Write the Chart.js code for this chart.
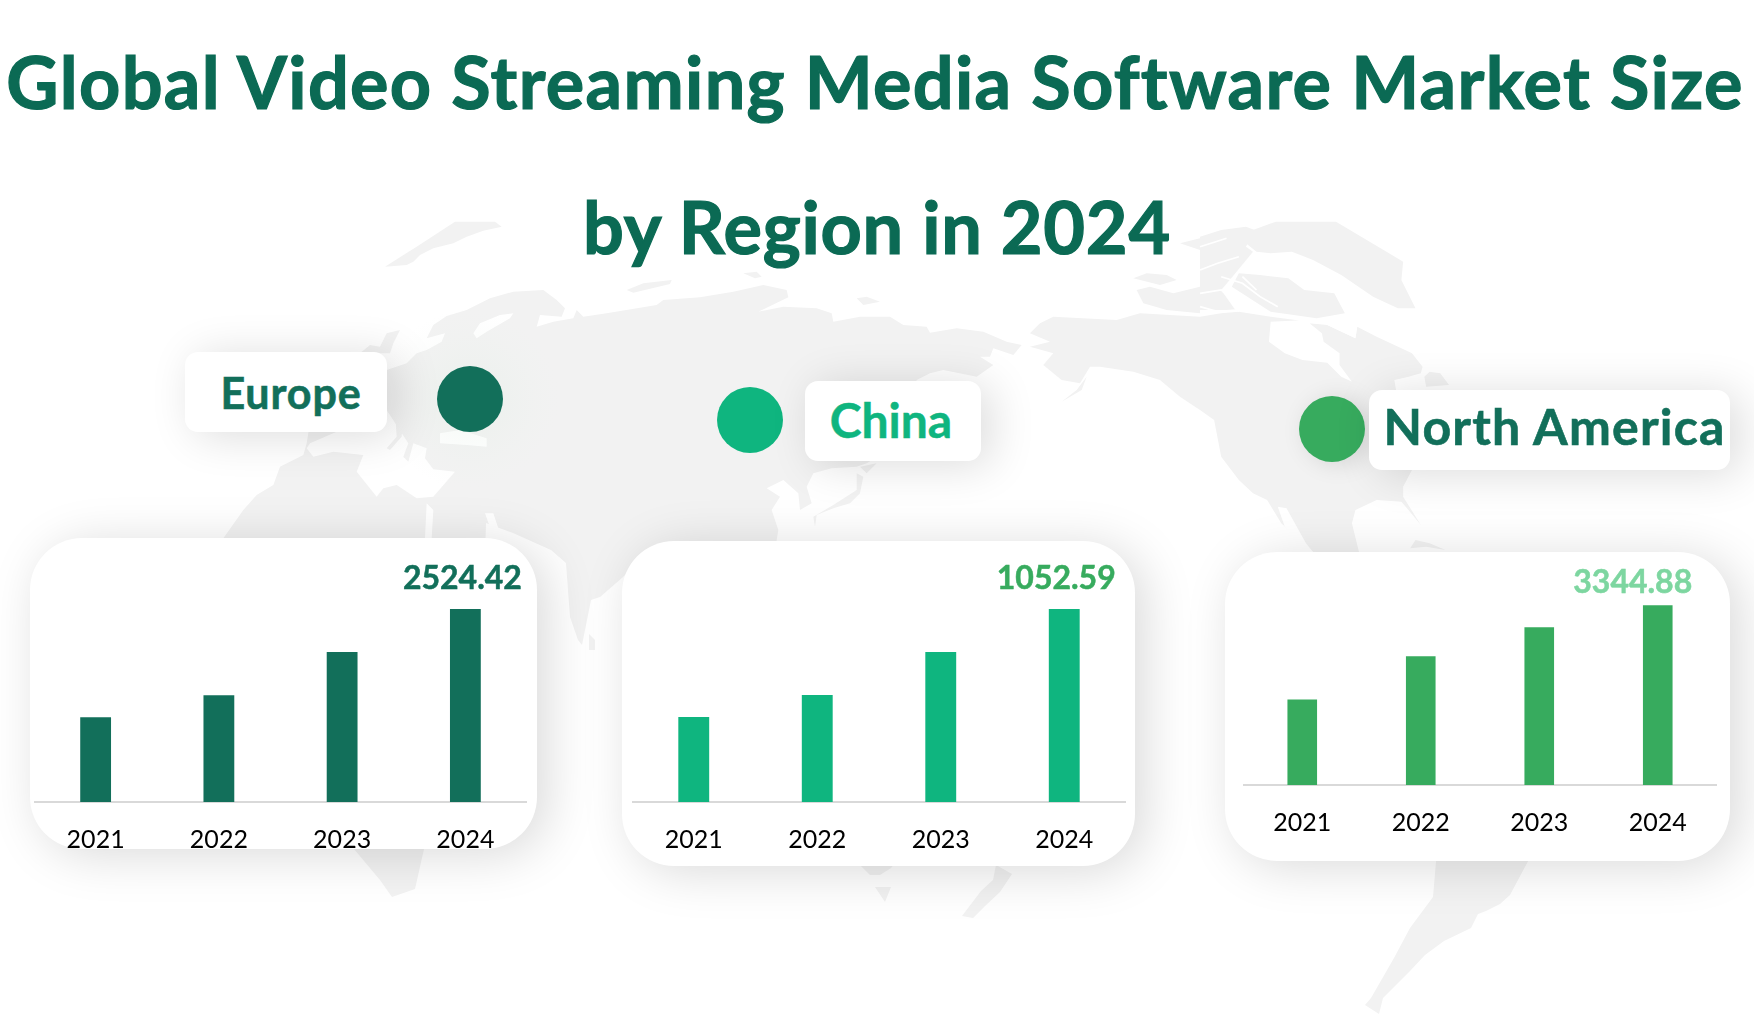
<!DOCTYPE html>
<html><head><meta charset="utf-8">
<script src="https://cdn.jsdelivr.net/npm/chart.js@4"></script>
<style>
html,body{margin:0;padding:0;background:#fff;width:1754px;height:1015px;overflow:hidden;font-family:Lato,sans-serif}
#stage{position:relative;width:1754px;height:1015px;overflow:hidden}
#map{position:absolute;left:0;top:0}
.t{position:absolute;left:0;width:1754px;text-align:center;font-weight:700;color:#0b6a54;font-size:72px;line-height:71px;-webkit-text-stroke:1.2px #0b6a54;white-space:nowrap;margin:0}
.card{position:absolute;background:#fff;border-radius:52px;box-shadow:10px 6px 50px rgba(0,0,0,.15)}
.pill{position:absolute;background:#fff;border-radius:13px;box-shadow:10px 4px 45px rgba(0,0,0,.14);font-weight:700;white-space:nowrap;text-align:center}
.dot{position:absolute;border-radius:50%;width:66px;height:66px}
canvas{position:absolute}
</style></head><body><div id="stage">
<svg id="map" width="1754" height="1015" viewBox="0 0 1754 1015">
<defs><radialGradient id="g"><stop offset="0" stop-color="#dcebdf" stop-opacity=".4"/><stop offset="1" stop-color="#eef3ef" stop-opacity="0"/></radialGradient></defs>
<g fill="#f2f2f2">
<polygon points="486,523 700,480 700,700 400,700 400,500"/>
<polygon points="354,849 424,849 415,889 392,897 380,880"/>
<polygon points="855,860 897,860 891,868 880,875 870,875"/>
<polygon points="875,887 891,887 885,902"/>
<polygon points="996,865 1012,874 1000,892 985,906 973,918 962,916 981,891 993,880"/>
<polygon points="1437,850 1534,850 1510,895 1500,904 1486,911 1478,914 1471,928 1444,941 1425,955 1410,971 1383,998 1379,1014 1365,1005 1371,998 1394,958 1410,928 1433,897"/>
</g>
<g fill="#f2f2f2" transform="translate(200,210) scale(.33333)">
<polygon points="765,35 885,35 905,50 850,62 800,80 760,100 700,115 660,135 640,155 620,165 555,170 650,110"/>
<polygon points="1280,240 1330,220 1415,210 1410,222 1300,248"/>
<polygon points="70,985 130,900 170,855 220,825 240,770 310,735 320,700 330,640 400,430 560,480 620,460 650,430 680,420 725,395 735,370 680,385 700,345 740,318 800,300 870,265 940,245 1030,240 1070,270 1095,295 1085,320 1020,315 1010,350 1060,335 1120,325 1130,300 1150,320 1220,310 1370,285 1390,270 1500,262 1500,1020 70,1020"/>
<polygon points="480,430 510,405 540,410 560,370 600,360 580,400 570,430"/>
<g fill="#fff">
<polygon points="320,715 340,740 400,725 490,735 470,785 530,860 550,835 590,825 650,865 700,860 765,785 700,778 675,745 680,715 640,700 625,755 610,740 625,700 560,600 410,665 330,700"/>
<polygon points="720,670 780,660 860,685 860,710 800,705 720,700"/>
<polygon points="820,370 840,340 900,315 940,310 930,325 860,365 830,385"/>
<polygon points="680,880 700,900 695,985 675,985"/>
<polygon points="855,910 880,910 900,970 960,990 940,1010 880,980"/>
</g>
<polygon points="585,600 610,620 605,680 570,720 560,715 590,680"/>
</g>
<g fill="#fff">
<polygon points="486,523 513,533 551,550 566,563 570,617 578,640 582,645 600,660 600,720 480,720"/>
<polygon points="582,645 591,600 600,597 623,577 640,560 660,720 590,720"/>
</g>
<polygon fill="#f2f2f2" points="589,634 595,640 595,650 589,650"/>
<g fill="#f2f2f2" transform="translate(700,210) scale(.33333)">
<polygon points="0,262 100,245 190,225 260,240 265,262 175,305 250,290 350,295 395,310 400,335 480,320 570,320 610,345 680,350 690,368 770,355 850,365 920,395 965,405 940,435 880,415 870,440 840,440 880,465 830,500 730,480 690,490 650,510 600,700 500,760 470,770 395,775 340,790 320,830 335,880 300,900 295,850 250,810 200,835 240,860 215,900 235,960 225,1020 0,1020"/>
<polygon points="130,190 170,185 185,200 165,205"/>
<polygon points="470,265 500,260 540,275 490,285"/>
<polygon points="480,770 530,760 500,790"/>
<polygon points="470,790 490,800 480,850 450,880 400,895 350,915 345,950 340,920 400,885 470,840"/>
<polygon points="1060,320 1020,340 990,370 1050,395 990,410 1060,430 1030,465 1085,510 1140,520 1170,470 1200,470 1300,485 1380,510 1440,560 1500,600 1500,320 1320,310 1250,330"/>
<polygon points="1085,575 1130,540 1160,500 1145,540"/>
<polygon points="1310,240 1350,230 1420,250 1500,230 1500,310 1400,300 1330,280"/>
<polygon points="1300,205 1340,190 1400,195 1430,210 1380,225"/>
<polygon points="1440,100 1500,85 1500,120"/>
</g>
<g fill="#f2f2f2" transform="translate(1200,210) scale(.3533,.33333)">
<polygon points="215,35 385,35 575,155 570,210 610,295 560,295 490,260 400,195 320,150 260,125 200,130 160,125 130,100 150,60"/>
<polygon points="0,80 60,60 130,50 155,60 130,110 150,125 100,190 60,240 100,300 0,300"/>
<polygon points="170,195 250,205 295,240 380,250 410,310 330,325 200,305 90,230 110,190"/>
<polygon points="0,320 60,310 110,305 200,320 270,330 310,340 350,340 440,385 445,350 500,380 570,415 600,430 630,470 625,490 590,500 550,510 555,540 620,560 600,780 575,830 575,860 625,945 590,900 570,875 500,870 440,900 430,940 450,1026 320,1026 230,940 190,870 150,850 110,810 60,740 40,630 0,600"/>
<polygon points="635,500 650,485 680,490 705,525 640,530"/>
<polygon points="595,1015 610,990 650,1000 695,1020 640,1010"/>
<g fill="#fff">
<polygon points="200,335 195,395 240,430 290,450 360,458 400,500 430,515 395,465 395,430 350,395 345,370 310,340 360,345 440,385 445,350 400,320 300,330"/>
<polygon points="220,890 245,895 300,1000 320,1026 290,1026 240,950"/>
</g>
<g fill="none" stroke="#fff" stroke-width="5">
<polyline points="0,110 60,90 75,85"/><polyline points="0,180 50,160 110,140"/><polyline points="0,250 60,240 90,270 110,305"/><polyline points="60,200 120,220 170,260 220,290"/><polyline points="0,290 50,305 100,300"/><polyline points="120,200 160,240"/>
</g>
</g>
<circle cx="470" cy="399" r="90" fill="url(#g)"/>
</svg>
<h1 class="t" id="t1" style="top:46px;left:-2px;letter-spacing:1.32px">Global Video Streaming Media Software Market Size</h1>
<h1 class="t" id="t2" style="top:191px;letter-spacing:.75px">by Region in 2024</h1>
<div class="pill" style="left:185px;top:352px;width:202px;height:80px;line-height:81px;font-size:43px;letter-spacing:.9px;-webkit-text-stroke:.6px #126f5a;color:#126f5a;text-indent:10px">Europe</div>
<div class="dot" style="left:437px;top:366px;background:#126f5a"></div>
<div class="dot" style="left:717px;top:387px;background:#0fb57f"></div>
<div class="pill" style="left:805px;top:381px;width:176px;height:80px;line-height:78px;font-size:48px;-webkit-text-stroke:.5px #0fb57f;color:#0fb57f;text-indent:-4px">China</div>
<div class="dot" style="left:1299px;top:396px;background:#37ab5e;box-shadow:6px 2px 24px rgba(0,0,0,.12)"></div>
<div class="pill" style="left:1369px;top:390px;width:361px;height:80px;line-height:72px;font-size:50px;letter-spacing:1.2px;-webkit-text-stroke:.6px #126f5a;color:#126f5a;text-indent:10px">North America</div>
<div class="card" style="left:30px;top:538px;width:507px;height:311px"></div>
<div class="card" style="left:622px;top:541px;width:513px;height:325px"></div>
<div class="card" style="left:1225px;top:552px;width:505px;height:309px"></div>
<canvas id="c1" width="493" height="314" style="left:34px;top:537px"></canvas>
<canvas id="c2" width="494" height="314" style="left:632px;top:537px"></canvas>
<canvas id="c3" width="474" height="290" style="left:1243px;top:552px"></canvas>
</div>
<script>
const categories = ["2021","2022","2023","2024"];
const europeValues = [1108, 1396, 1962, 2524.42];
const chinaValues = [464, 584, 818, 1052.59];
const northAmericaValues = [1589, 2392, 2934, 3344.88];

const valueLabel = {
  id: "valueLabel",
  afterDatasetsDraw(chart, args, o) {
    const ds = chart.data.datasets[0];
    const i = ds.data.length - 1;
    const bar = chart.getDatasetMeta(0).data[i];
    const ctx = chart.ctx;
    ctx.save();
    ctx.font = "700 32px Lato";
    ctx.fillStyle = o.color;
    ctx.strokeStyle = o.color;
    ctx.lineWidth = 0.5;
    ctx.textAlign = "center";
    ctx.textBaseline = "middle";
    ctx.fillText(ds.data[i].toFixed(2), bar.x + o.dx, bar.y + o.dy);
    ctx.strokeText(ds.data[i].toFixed(2), bar.x + o.dx, bar.y + o.dy);
    ctx.restore();
  }
};

function makeChart(id, values, color, labelColor, yMax, axisH, dx, dy) {
  return new Chart(document.getElementById(id), {
    type: "bar",
    data: { labels: categories, datasets: [{ data: values, backgroundColor: color, barPercentage: 0.25, categoryPercentage: 1 }] },
    options: {
      responsive: false, animation: false, devicePixelRatio: 1,
      layout: { padding: 0 },
      plugins: { legend: { display: false }, tooltip: { enabled: false }, valueLabel: { color: labelColor, dx, dy } },
      scales: {
        x: {
          grid: { display: false },
          border: { display: true, color: "#d9d9d9", width: 2 },
          ticks: { color: "#000", font: { family: "Lato", size: 25 }, padding: 15, maxRotation: 0 },
          afterFit(s) { s.height = axisH; }
        },
        y: { display: false, min: 0, max: yMax }
      }
    },
    plugins: [valueLabel]
  });
}
makeChart("c1", europeValues, "#126f5a", "#126f5a", 3468, 49, -3, -30);
makeChart("c2", chinaValues, "#0fb57f", "#37ab5e", 1446, 49, -8, -30);
makeChart("c3", northAmericaValues, "#37ab5e", "#7dd6a0", 4333, 57, -25, -22);
</script>
</body></html>
